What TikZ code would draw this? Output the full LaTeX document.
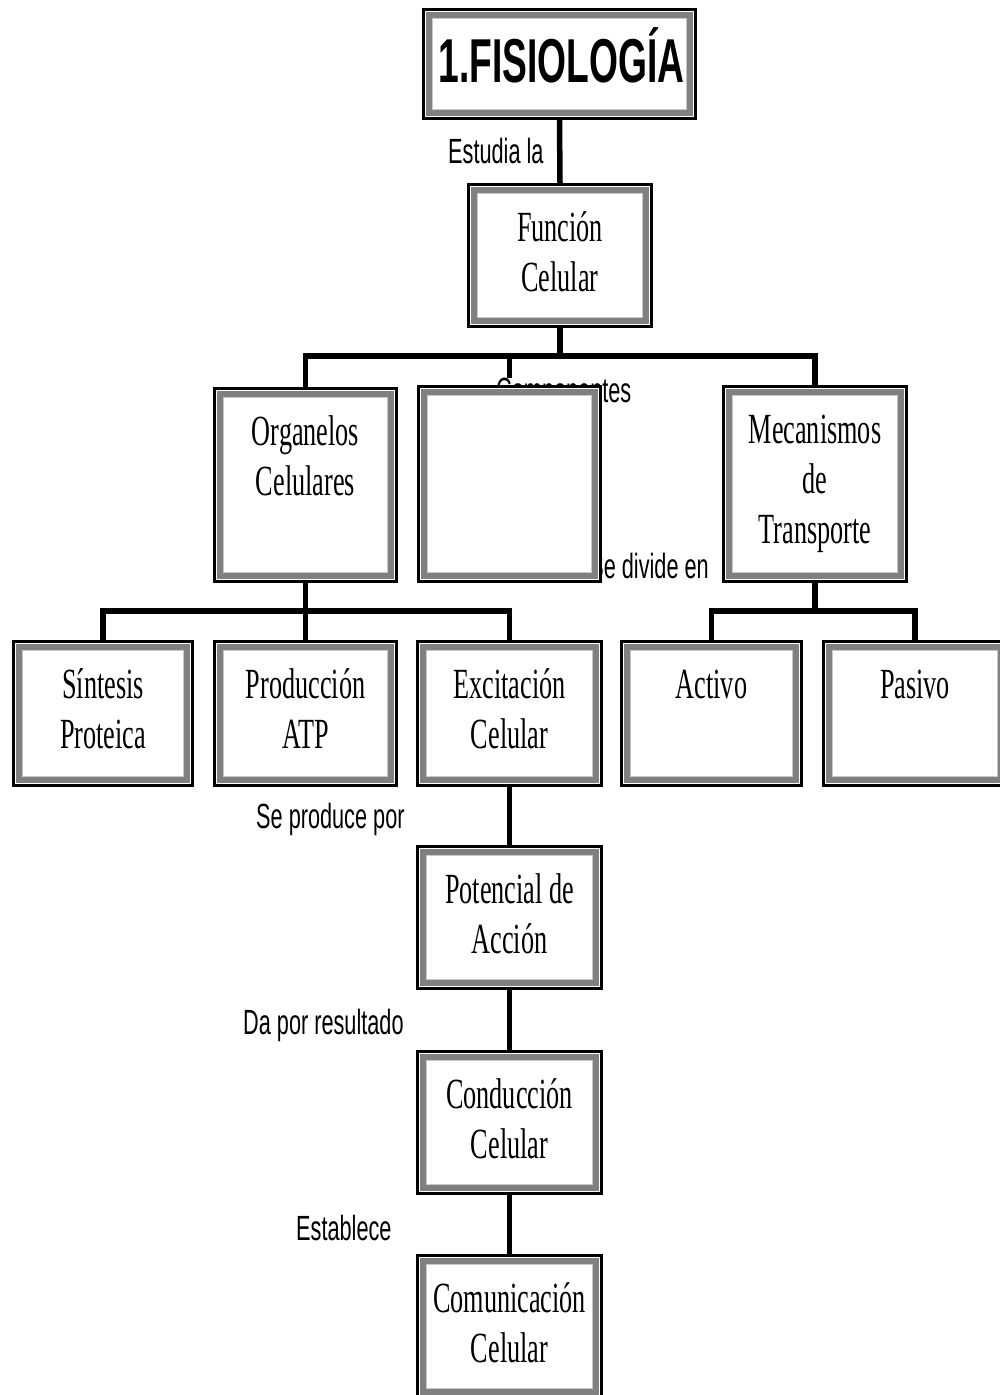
\documentclass[tikz,border=0pt]{standalone}
\usepackage{fontspec}
\newfontfamily\bxfont[FakeStretch=0.61]{Liberation Serif}
\newfontfamily\lblfont[FakeStretch=0.62]{Liberation Sans}
\newfontfamily\ttlfont[FakeStretch=0.6]{Liberation Sans}
\definecolor{bandgray}{HTML}{808080}
\definecolor{edgegray}{HTML}{C8C8C8}
% box contents: width, height, text hanging from the top edge
\newcommand\bxt[4][57]{\parbox[c][#3pt][t]{#2pt}{\centering\rule{0pt}{#1pt}#4}}
\pgfdeclarelayer{lines}
\pgfdeclarelayer{labels}
\pgfsetlayers{lines,labels,main}
\tikzset{
  fbx/.style={draw=black, line width=3.5pt, fill=white, inner sep=0pt,
    font=\bxfont\fontsize{43}{50}\selectfont,
    path picture={
      \draw[line width=6pt, draw=bandgray]
        ([shift={(5.75pt,-5.75pt)}]path picture bounding box.north west) rectangle
        ([shift={(-5.75pt,5.75pt)}]path picture bounding box.south east);
      \draw[line width=1pt, draw=edgegray]
        ([shift={(9.25pt,-9.25pt)}]path picture bounding box.north west) rectangle
        ([shift={(-9.25pt,9.25pt)}]path picture bounding box.south east);
    }},
  link/.style={line width=5.5pt, line cap=rect},
  lbl/.style={font=\lblfont\fontsize{35}{40}\selectfont, inner sep=0pt, anchor=base west},
}
\begin{document}
\begin{tikzpicture}[x=1pt, y=-1pt]
\useasboundingbox (0,0) rectangle (999,1395);

% boxes
\node[fbx, font=\ttlfont\bfseries\fontsize{62}{64}\selectfont] (fis) at (559.5,64) {\bxt[73]{272}{109}{\hspace*{4pt}1.FISIOLOGÍA}};
\node[fbx] (fun) at (560,255.5) {\bxt{183}{142}{Función\\Celular}};
\node[fbx] (org) at (305.5,485) {\bxt{182}{193}{Organelos\\Celulares}};
\node[fbx] (emp) at (509.5,484) {\bxt{182}{195}{}};
\node[fbx] (mec) at (815,484) {\bxt{183}{195}{Mecanismos\\de\\Transporte}};
\node[fbx] (sin) at (103,713.5) {\bxt{179}{144}{Síntesis\\Proteica}};
\node[fbx] (pro) at (305.5,713.5) {\bxt{182}{144}{Producción\\ATP}};
\node[fbx] (exc) at (509.5,713.5) {\bxt{184}{144}{Excitación\\Celular}};
\node[fbx] (act) at (711.5,713.5) {\bxt{180}{144}{Activo}};
\node[fbx] (pas) at (915,713.5) {\bxt{183}{144}{Pasivo}};
\node[fbx] (pot) at (509.5,917.5) {\bxt{184}{142}{Potencial de\\Acción}};
\node[fbx] (con) at (509.5,1122.5) {\bxt{184}{142}{Conducción\\Celular}};
\node[fbx] (com) at (509.5,1326.5) {\bxt{184}{142}{Comunicación\\Celular}};

% branching points
\coordinate (b1) at (560,356);
\coordinate (b2) at (305.5,611);
\coordinate (b3) at (815,611);

% connector labels
\begin{pgfonlayer}{labels}
\node[lbl] (l1) at (448,163) {Estudia la};
\node[lbl, fill=white] (l2) at (496,402) {Componentes};
\node[lbl, anchor=base east] (l3) at (709,578) {Se divide en};
\node[lbl] (l4) at (256,828) {Se produce por};
\node[lbl] (l5) at (243,1034) {Da por resultado};
\node[lbl] (l6) at (296,1240) {Establece};
\end{pgfonlayer}

% connectors
\begin{pgfonlayer}{lines}
\draw[link] (fis.south) -- (fun.north);
\draw[link] (fun.south) -- (b1);
\draw[link] (org.north) -- (org.north |- b1) -- (mec.north |- b1) -- (mec.north);
\draw[link] (emp.north) -- (emp.north |- b1);
\draw[link] (org.south) -- (b2);
\draw[link] (sin.north) -- (sin.north |- b2) -- (exc.north |- b2) -- (exc.north);
\draw[link] (pro.north) -- (pro.north |- b2);
\draw[link] (mec.south) -- (b3);
\draw[link] (act.north) -- (act.north |- b3) -- (pas.north |- b3) -- (pas.north);
\draw[link] (exc.south) -- (pot.north);
\draw[link] (pot.south) -- (con.north);
\draw[link] (con.south) -- (com.north);
\end{pgfonlayer}
\end{tikzpicture}
\end{document}
